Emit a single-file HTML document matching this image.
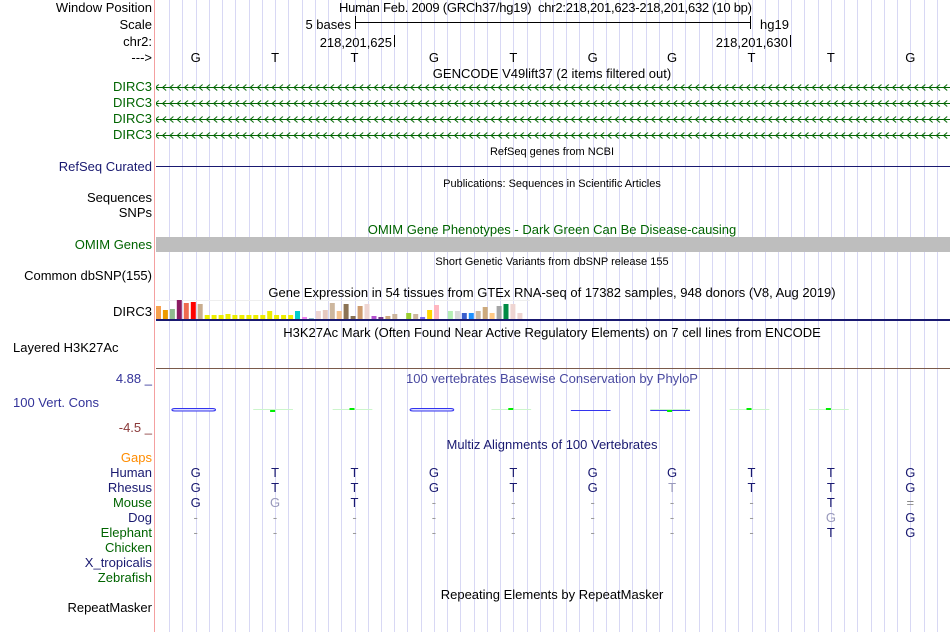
<!DOCTYPE html>
<html><head><meta charset="utf-8"><style>
html,body{margin:0;padding:0;background:#fff;width:950px;height:632px;overflow:hidden}
svg{display:block;font-family:"Liberation Sans",sans-serif}
</style></head><body>
<svg id="c" width="950" height="632" viewBox="0 0 950 632">
<defs>
<pattern id="chev" x="0" y="3.5" width="7.3" height="8" patternUnits="userSpaceOnUse">
<path d="M5.5,1 L2,4 L5.5,7" fill="none" stroke="#006400" stroke-width="1"/>
</pattern>
</defs>
<g id="grid"></g>
<line x1="154.5" y1="0" x2="154.5" y2="632" stroke="#f4a0a0" stroke-width="1"/>

<g font-size="13" text-anchor="end">
<text x="152" y="12" fill="#000">Window Position</text>
<text x="152" y="29" fill="#000">Scale</text>
<text x="152" y="46" fill="#000">chr2:</text>
<text x="152" y="62" fill="#000">---&gt;</text>
<text x="152" y="91" fill="#006400">DIRC3</text>
<text x="152" y="107" fill="#006400">DIRC3</text>
<text x="152" y="123" fill="#006400">DIRC3</text>
<text x="152" y="139" fill="#006400">DIRC3</text>
<text x="152" y="171" fill="#191970">RefSeq Curated</text>
<text x="152" y="202" fill="#000">Sequences</text>
<text x="152" y="217" fill="#000">SNPs</text>
<text x="152" y="249" fill="#006400">OMIM Genes</text>
<text x="152" y="280" fill="#000">Common dbSNP(155)</text>
<text x="152" y="316" fill="#000">DIRC3</text>
<text x="13" y="352" text-anchor="start" fill="#000">Layered H3K27Ac</text>
<text x="152" y="383" fill="#333399">4.88 _</text>
<text x="13" y="407" text-anchor="start" fill="#333399">100 Vert. Cons</text>
<text x="152" y="432" fill="#8b3a3a">-4.5 _</text>
<text x="152" y="462" fill="#ff8c00">Gaps</text>
<text x="152" y="477" fill="#191970">Human</text>
<text x="152" y="492" fill="#191970">Rhesus</text>
<text x="152" y="507" fill="#006400">Mouse</text>
<text x="152" y="522" fill="#191970">Dog</text>
<text x="152" y="537" fill="#006400">Elephant</text>
<text x="152" y="552" fill="#006400">Chicken</text>
<text x="152" y="567" fill="#191970">X_tropicalis</text>
<text x="152" y="582" fill="#006400">Zebrafish</text>
<text x="152" y="612" fill="#000">RepeatMasker</text>
</g>

<g font-size="13" text-anchor="middle">
<text x="339" y="12" text-anchor="start" textLength="413" fill="#000">Human Feb. 2009 (GRCh37/hg19)&#160;&#160;chr2:218,201,623-218,201,632 (10 bp)</text>
<text x="552" y="78" fill="#000">GENCODE V49lift37 (2 items filtered out)</text>
<text x="552" y="155" fill="#000" font-size="11">RefSeq genes from NCBI</text>
<text x="552" y="187" fill="#000" font-size="11">Publications: Sequences in Scientific Articles</text>
<text x="552" y="234" fill="#006400">OMIM Gene Phenotypes - Dark Green Can Be Disease-causing</text>
<text x="552" y="265" fill="#000" font-size="11">Short Genetic Variants from dbSNP release 155</text>
<text x="552" y="297" fill="#000">Gene Expression in 54 tissues from GTEx RNA-seq of 17382 samples, 948 donors (V8, Aug 2019)</text>
<text x="552" y="337" fill="#000">H3K27Ac Mark (Often Found Near Active Regulatory Elements) on 7 cell lines from ENCODE</text>
<text x="552" y="383" fill="#4a4aa0">100 vertebrates Basewise Conservation by PhyloP</text>
<text x="552" y="449" fill="#191970">Multiz Alignments of 100 Vertebrates</text>
<text x="552" y="599" fill="#000">Repeating Elements by RepeatMasker</text>
</g>

<g font-size="13">
<text x="351" y="29" text-anchor="end" fill="#000">5 bases</text>
<line x1="355" y1="22.5" x2="750" y2="22.5" stroke="#000"/>
<line x1="355.5" y1="16" x2="355.5" y2="29" stroke="#000"/>
<line x1="750.5" y1="16" x2="750.5" y2="29" stroke="#000"/>
<text x="760" y="29" fill="#000">hg19</text>
<text x="392" y="47" text-anchor="end" fill="#000">218,201,625</text>
<line x1="394.5" y1="35" x2="394.5" y2="47" stroke="#000"/>
<text x="788" y="47" text-anchor="end" fill="#000">218,201,630</text>
<line x1="790.5" y1="35" x2="790.5" y2="47" stroke="#000"/>
</g>

<g>
<rect x="156" y="83" width="794" height="9" fill="url(#chev)"/><line x1="156" y1="87.5" x2="950" y2="87.5" stroke="#006400"/>
<rect x="156" y="99" width="794" height="9" fill="url(#chev)"/><line x1="156" y1="103.5" x2="950" y2="103.5" stroke="#006400"/>
<rect x="156" y="115" width="794" height="9" fill="url(#chev)"/><line x1="156" y1="119.5" x2="950" y2="119.5" stroke="#006400"/>
<rect x="156" y="131" width="794" height="9" fill="url(#chev)"/><line x1="156" y1="135.5" x2="950" y2="135.5" stroke="#006400"/>
</g>
<line x1="156" y1="166.5" x2="950" y2="166.5" stroke="#191970"/>
<rect x="156" y="237" width="794" height="15" fill="#bebebe"/>
<rect x="156" y="319" width="794" height="2" fill="#191970"/>
<line x1="156" y1="368.5" x2="950" y2="368.5" stroke="#7a5a4a"/>
<g id="gtex"></g>
<g id="cons"></g>
<g id="bases" font-size="13" text-anchor="middle"></g>
<g id="align" font-size="13" text-anchor="middle"></g>
</svg>
<script>
const NS='http://www.w3.org/2000/svg';
const bases=['G','T','T','G','T','G','G','T','T','G'];
const rhesus=['G','T','T','G','T','G','t','T','T','G'];
const mouse=['G','g','T','-','-','-','-','-','T','='];
const dog=['-','-','-','-','-','-','-','-','g','G'];
const elephant=['-','-','-','-','-','-','-','-','T','G'];
const gtexValues=[13,9,10,19,16,17,15,4,4,4,5,4,4,4,4,4,8,4,4,4,8,2,1,8,9,16,8,15,3,13,15,3,2,3,5,0,6,5,2,9,14,0,8,8,6,6,8,12,6,13,15,15,6,0];
const gtexColors=['#f6a04d','#ee9a00','#8fbc8f','#8b1c62','#ee6a50','#ff0000','#c9ad8e','#eeee00','#eeee00','#eeee00','#eeee00','#eeee00','#eeee00','#eeee00','#eeee00','#eeee00','#eeee00','#eeee00','#eeee00','#eeee00','#00cdcd','#ee82ee','#9ac0cd','#eed5d2','#e6c9c0','#cdb79e','#f4c28e','#8b7355','#8b7355','#cd9b6e','#eed5d2','#b452cd','#7a378b','#cdaa7d','#cdb79e','#eeeeee','#9acd32','#cdb79e','#7b68ee','#ffd700','#ffb6c1','#eeeeee','#b4eeb4','#d9d9d9','#3a5fcd','#1e90ff','#cdb79e','#cdaa7d','#ffc985','#a6a6a6','#008b45','#eed5d2','#eed5d2','#eeeeee'];
const consSpans=[[0,0.55,'b'],[1,0.5,'g'],[2,0.5,'g'],[3,0.55,'b'],[4,0.5,'g'],[5,0.5,'b'],[6,0.5,'bg'],[7,0.5,'g'],[8,0.5,'g']];
const x0=156,bw=79.4;
const xBase=i=>x0+bw*(i+0.5);
function el(t,a,p){const e=document.createElementNS(NS,t);for(const k in a)e.setAttribute(k,a[k]);p.appendChild(e);return e;}
const grid=document.getElementById('grid');
for(let i=1;i<61;i++){const x=Math.round(x0+i*bw/6)+0.5;const l=el('line',{x1:x,y1:0,x2:x,y2:632,stroke:'#d8d8f4'},grid);

}
const bg=document.getElementById('bases');
bases.forEach((b,i)=>{const t=el('text',{x:xBase(i),y:62,fill:'#000'},bg);t.textContent=b;

});
const gg=document.getElementById('gtex');const gStep=6.95,gBase=319,gScale=1;
el('line',{x1:x0,y1:300.5,x2:530,y2:300.5,stroke:'#eeeeee'},gg);
gtexValues.forEach((v,i)=>{if(v<=0)return;const r=el('rect',{x:(x0+i*gStep).toFixed(1),y:gBase-v*gScale,width:5,height:v*gScale,fill:gtexColors[i]},gg);

});
const cg=document.getElementById('cons');
consSpans.forEach(([i,w,c])=>{const cx=xBase(i)-2;const half=bw*w/2;
if(c.includes('b')){let r;
if(i===0||i===3){r=el('rect',{x:cx-half,y:408.5,width:half*2,height:2.5,fill:'#dde0ff',stroke:'#3333ee',rx:3},cg);}
else{r=el('rect',{x:cx-half,y:410,width:half*2,height:1,fill:'#3333ee'},cg);}

}
if(c.includes('g')){el('rect',{x:cx-half,y:409,width:half*2,height:1,fill:'#ccf5cc'},cg);const r=el('rect',{x:cx-3,y:(i===1||i===6)?410:408,width:5,height:2,fill:'#00ee00'},cg);

}});
const ag=document.getElementById('align');
function row(arr,y,name){arr.forEach((b,i)=>{let ch=b,col='#191970';
if(b==='-'){col='#999';}else if(b==='='){col='#888';}else if(b===b.toLowerCase()){ch=b.toUpperCase();col='#9999bb';}
const t=el('text',{x:xBase(i),y:y,fill:col},ag);t.textContent=ch;

});}
row(bases,477,'human-base');row(rhesus,492,'rhesus-base');row(mouse,507,'mouse-base');row(dog,522,'dog-base');row(elephant,537,'elephant-base');
</script>
</body></html>
